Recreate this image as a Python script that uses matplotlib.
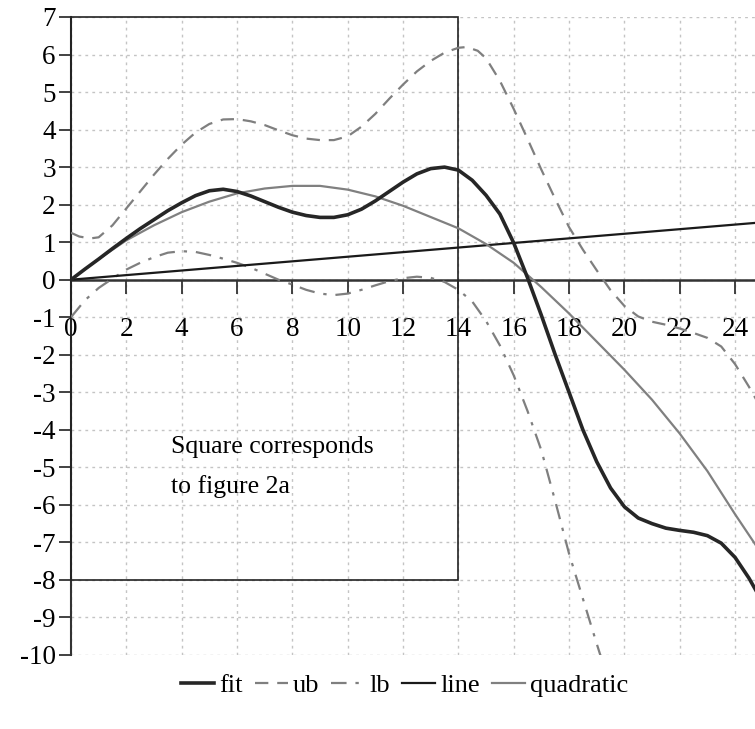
import matplotlib
matplotlib.use("Agg")
import matplotlib.pyplot as plt
from matplotlib.patches import Rectangle

plt.rcParams['font.family'] = ['Liberation Serif', 'DejaVu Serif']
plt.rcParams['axes.unicode_minus'] = False

# ---- data ----
fit_x = [0, 0.5, 1, 1.5, 2, 2.5, 3, 3.5, 4, 4.5, 5, 5.5, 6, 6.5, 7, 7.5, 8, 8.5, 9, 9.5, 10, 10.5,
         11, 11.5, 12, 12.5, 13, 13.5, 14, 14.5, 15, 15.5, 16, 16.5, 17, 17.5, 18, 18.5, 19, 19.5,
         20, 20.5, 21, 21.5, 22, 22.5, 23, 23.5, 24, 24.5, 25]
fit_y = [0, 0.28, 0.55, 0.83, 1.1, 1.36, 1.6, 1.84, 2.05, 2.24, 2.37, 2.41, 2.35, 2.23, 2.08, 1.93,
         1.8, 1.71, 1.66, 1.66, 1.73, 1.88, 2.1, 2.35, 2.6, 2.82, 2.96, 3.0, 2.92, 2.65, 2.25, 1.75,
         0.98, 0.05, -0.95, -2.0, -3.0, -4.0, -4.85, -5.55, -6.05, -6.35, -6.5, -6.62, -6.68, -6.73,
         -6.82, -7.02, -7.4, -7.95, -8.6]

ub_x = [0, 0.3, 0.7, 1, 1.5, 2, 2.5, 3, 3.5, 4, 4.5, 5, 5.5, 6, 6.5, 7, 7.5, 8, 8.5, 9, 9.5, 10,
        10.5, 11, 11.5, 12, 12.5, 13, 13.5, 14, 14.3, 14.7, 15, 15.5, 16, 16.5, 17, 17.5, 18, 18.5,
        19, 19.5, 20, 20.5, 21, 21.5, 22, 22.5, 23, 23.5, 24, 24.5, 25]
ub_y = [1.25, 1.15, 1.1, 1.13, 1.45, 1.9, 2.35, 2.8, 3.22, 3.6, 3.92, 4.15, 4.27, 4.28, 4.22, 4.12,
        3.98, 3.85, 3.76, 3.72, 3.72, 3.82, 4.08, 4.42, 4.82, 5.2, 5.55, 5.83, 6.05, 6.18, 6.2, 6.1,
        5.9, 5.3, 4.55, 3.75, 2.93, 2.15, 1.4, 0.8, 0.25, -0.28, -0.7, -0.98, -1.12, -1.2, -1.3,
        -1.42, -1.55, -1.78, -2.25, -2.85, -3.5]

lb_x = [0, 0.5, 1, 1.5, 2, 2.5, 3, 3.5, 4, 4.5, 5, 5.5, 6, 6.5, 7, 7.5, 8, 8.5, 9, 9.5, 10, 10.5,
        11, 11.5, 12, 12.5, 13, 13.5, 14, 14.5, 15, 15.5, 16, 16.5, 17, 17.5, 18, 18.5, 19, 19.3]
lb_y = [-1.0, -0.55, -0.22, 0.03, 0.27, 0.45, 0.6, 0.72, 0.76, 0.74, 0.66, 0.56, 0.45, 0.32, 0.16,
        0.0, -0.13, -0.27, -0.37, -0.41, -0.37, -0.27, -0.15, -0.04, 0.04, 0.08, 0.05, -0.06, -0.27,
        -0.58, -1.1, -1.75, -2.55, -3.5, -4.55, -5.9, -7.3, -8.5, -9.7, -10.4]

line_x = [0, 25]
line_y = [0, 1.53]

quad_x = list(range(0, 26))
quad_y = [0, 0.55, 1.05, 1.45, 1.8, 2.08, 2.3, 2.43, 2.5, 2.5, 2.4, 2.22, 1.97, 1.67, 1.37, 0.95,
          0.45, -0.2, -0.9, -1.65, -2.4, -3.2, -4.1, -5.1, -6.25, -7.35]

x_ticks = list(range(0, 25, 2))
y_ticks = list(range(-10, 8))

box_x0, box_x1, box_y0, box_y1 = 0, 14, -8, 7
note_lines = ["Square corresponds", "to figure 2a"]

# ---- figure ----
W, H = 755, 729
fig = plt.figure(figsize=(W / 100, H / 100), dpi=100)
left = 71 / W
bottom = 1 - 655 / H
top = 1 - 17 / H
ax = fig.add_axes([left, bottom, 1 - left, top - bottom])

ax.set_xlim(0, 24.72)
ax.set_ylim(-10, 7)

ax.plot(fit_x, fit_y, color='#262626', lw=2.6, label='fit', zorder=5)
ax.plot(ub_x, ub_y, color='#7f7f7f', lw=1.6, ls=(0, (6, 4)), label='ub', zorder=4)
ax.plot(lb_x, lb_y, color='#7f7f7f', lw=1.6, ls=(0, (7, 4, 1.5, 4)), label='lb', zorder=4)
ax.plot(line_x, line_y, color='#1a1a1a', lw=1.6, label='line', zorder=4)
ax.plot(quad_x, quad_y, color='#808080', lw=1.6, label='quadratic', zorder=4)

ax.add_patch(Rectangle((box_x0, box_y0), box_x1 - box_x0, box_y1 - box_y0, fill=False,
                       edgecolor='#222222', lw=1.2, zorder=3, clip_on=False))

ax.text(3.6, -4.45, note_lines[0], fontsize=18.5, va='center', ha='left')
ax.text(3.6, -5.5, note_lines[1], fontsize=18.5, va='center', ha='left')

ax.spines['top'].set_visible(False)
ax.spines['right'].set_visible(False)
ax.spines['bottom'].set_position(('data', 0))
ax.spines['bottom'].set_linewidth(1.8)
ax.spines['bottom'].set_color('#333333')
ax.spines['left'].set_linewidth(1.5)
ax.spines['left'].set_color('#333333')

ax.set_xticks(x_ticks)
ax.set_yticks(y_ticks)
ax.set_xticklabels([str(v) for v in x_ticks])
ax.set_yticklabels([str(v) for v in y_ticks])
ax.tick_params(axis='x', direction='out', length=10, width=1.3, pad=17, labelsize=19.5, colors='#333333',
               labelcolor='black')
ax.tick_params(axis='y', direction='out', length=9, width=1.3, pad=2, labelsize=19.5, colors='#333333',
               labelcolor='black')

ax.grid(True, linestyle=(0, (2, 3)), color='#c4c4c4', lw=1.0, zorder=0)
ax.set_axisbelow(True)

fig.legend(loc='center', bbox_to_anchor=(0.536, 1 - 685 / H), ncol=5, frameon=False, fontsize=19,
           handlelength=1.25, handletextpad=0.2, columnspacing=0.45)

fig.savefig('out.png', dpi=100)
